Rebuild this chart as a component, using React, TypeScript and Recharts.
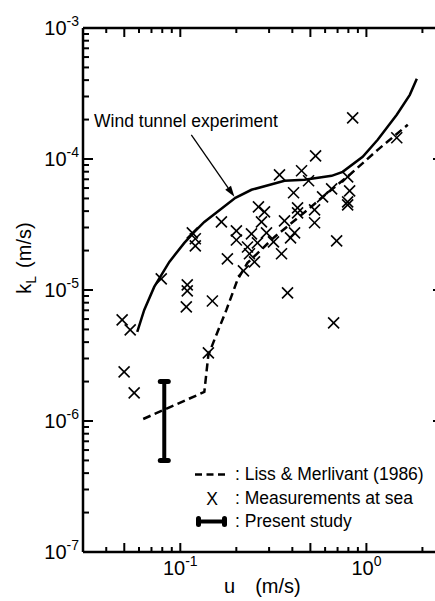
import React from 'react';
import {
  ComposedChart,
  XAxis,
  YAxis,
  Line,
  Scatter,
  ReferenceLine,
  ReferenceDot,
  Legend,
  Label,
} from 'recharts';

const FONT = '"Liberation Sans", Arial, Helvetica, sans-serif';

// Measurements at sea (u in m/s, kL in m/s)
const seaU = [
  0.0487, 0.0538, 0.0499, 0.0565, 0.079, 0.109, 0.109, 0.1077, 0.116, 0.1204,
  0.1204, 0.1487, 0.1415, 0.1663, 0.1791, 0.2002, 0.2002, 0.2184, 0.2296, 0.2353,
  0.2412, 0.2504, 0.2598, 0.263, 0.2834, 0.273, 0.2905, 0.3167, 0.3499, 0.3631,
  0.3769, 0.3912, 0.4111, 0.3412, 0.4061, 0.4266, 0.4266, 0.4483, 0.4889, 0.5266,
  0.5266, 0.5333, 0.5815, 0.6503, 0.6668, 0.692, 0.793, 0.8128, 0.793, 0.793,
  0.8437, 1.456,
];
const seaK = [
  5.91e-6, 4.96e-6, 2.37e-6, 1.64e-6, 1.215e-5, 1.094e-5, 9.84e-6, 7.43e-6, 2.73e-5, 2.46e-5,
  2.17e-5, 8.25e-6, 3.31e-6, 3.31e-5, 1.73e-5, 2.83e-5, 2.41e-5, 1.4e-5, 2.13e-5, 1.89e-5,
  2.68e-5, 1.64e-5, 2.29e-5, 4.31e-5, 3.95e-5, 3.31e-5, 2.73e-5, 2.33e-5, 1.89e-5, 3.37e-5,
  9.5e-6, 2.5e-5, 2.73e-5, 7.57e-5, 5.52e-5, 4.24e-5, 3.88e-5, 8.13e-5, 6.82e-5, 4.09e-5,
  3.26e-5, 1.057e-4, 5.14e-5, 5.92e-5, 5.61e-6, 2.37e-5, 7.31e-5, 5.71e-5, 4.71e-5, 4.47e-5,
  2.06e-4, 1.452e-4,
];

// Wind tunnel experiment (solid)
const windU = [0.0587, 0.064, 0.0724, 0.0873, 0.1051, 0.119, 0.1346, 0.1978, 0.2412, 0.3631, 0.4653, 0.6503, 0.7455, 0.955, 1.15, 1.456, 1.711, 1.866];
const windK = [4.79e-6, 7.05e-6, 1.056e-5, 1.64e-5, 2.29e-5, 2.78e-5, 3.31e-5, 5.05e-5, 5.82e-5, 6.82e-5, 6.94e-5, 7.44e-5, 7.98e-5, 1.039e-4, 1.402e-4, 2.18e-4, 3.09e-4, 4.1e-4];

// Liss & Merlivant (1986) (dashed)
const lissU = [0.0632, 0.1346, 0.1415, 0.1524, 0.1769, 0.2027, 0.2296, 0.3208, 0.483, 0.619, 0.8128, 1.15, 1.669];
const lissK = [1.036e-6, 1.666e-6, 3.19e-6, 4.16e-6, 7.05e-6, 1.194e-5, 1.61e-5, 2.54e-5, 4.09e-5, 5.52e-5, 7.57e-5, 1.175e-4, 1.825e-4];

// Present study (error bar)
const studyU = [0.082, 0.082];
const studyK = [5e-7, 2e-6];

// Annotation
const annotText = 'Wind tunnel experiment';
const annotU = 0.0344;
const annotK = 1.94e-4;
const arrowU = [0.1146, 0.1953];
const arrowK = [1.53e-4, 5.14e-5];

// Axes
const xDomain = [0.03, 2.58];
const yDomain = [1e-7, 1e-3];
const xMajorTicks = [0.1, 1];
const xExponents = ['-1', '0'];
const xMinorTicks = [0.04, 0.05, 0.06, 0.07, 0.08, 0.09, 0.2, 0.3, 0.4, 0.5, 0.6, 0.7, 0.8, 0.9, 2];
const yMajorTicks = [1e-7, 1e-6, 1e-5, 1e-4, 1e-3];
const yExponents = ['-7', '-6', '-5', '-4', '-3'];
const yMantissas = [2, 3, 4, 5, 6, 7, 8, 9];
const yDecades = [1e-7, 1e-6, 1e-5, 1e-4];

const xTicks = [...xMajorTicks, ...xMinorTicks].sort((a, b) => a - b);
const yMinorTicks = yDecades.flatMap((d) => yMantissas.map((m) => m * d));
const yTicks = [...yMajorTicks, ...yMinorTicks].sort((a, b) => a - b);

const seaData = seaU.map((u, i) => ({ u, k: seaK[i] }));
const windData = windU.map((u, i) => ({ u, k: windK[i] }));
const lissData = lissU.map((u, i) => ({ u, k: lissK[i] }));
const studyData = studyU.map((u, i) => ({ u, k: studyK[i] }));

const near = (a: number, b: number) => Math.abs(Math.log10(a) - Math.log10(b)) < 1e-6;
const isHalfDecade = (v: number) => xMajorTicks.some((m) => near(v, m * 0.5));

const AXIS_W = 2.5;

const BottomTick = (props: any) => {
  const { x, y, payload } = props;
  const v = payload.value;
  const idx = xMajorTicks.findIndex((t) => near(t, v));
  const len = idx >= 0 || isHalfDecade(v) ? 9 : 5;
  return (
    <g>
      <line x1={x} x2={x} y1={y} y2={y - len} stroke="#000" strokeWidth={2} />
      {idx >= 0 && (
        <text x={x} y={y + 23} textAnchor="middle" fontFamily={FONT} fontSize={20} fill="#000">
          10<tspan dy={-9} fontSize={14}>{xExponents[idx]}</tspan>
        </text>
      )}
    </g>
  );
};

const TopTick = (props: any) => {
  const { x, y, payload } = props;
  const v = payload.value;
  const idx = xMajorTicks.findIndex((t) => near(t, v));
  const len = idx >= 0 || isHalfDecade(v) ? 9 : 5;
  return <line x1={x} x2={x} y1={y} y2={y + len} stroke="#000" strokeWidth={2} />;
};

const LeftTick = (props: any) => {
  const { x, y, payload } = props;
  const v = payload.value;
  const idx = yMajorTicks.findIndex((t) => near(t, v));
  const len = idx >= 0 ? 10 : 6;
  return (
    <g>
      <line x1={x} x2={x + len} y1={y} y2={y} stroke="#000" strokeWidth={2} />
      {idx >= 0 && (
        <text x={x - 4} y={y + 7} textAnchor="end" fontFamily={FONT} fontSize={20} fill="#000">
          10<tspan dy={-9} fontSize={14}>{yExponents[idx]}</tspan>
        </text>
      )}
    </g>
  );
};

const RightTick = (props: any) => {
  const { x, y, payload } = props;
  const v = payload.value;
  const idx = yMajorTicks.findIndex((t) => near(t, v));
  const len = idx >= 0 ? 10 : 6;
  return <line x1={x} x2={x - len} y1={y} y2={y} stroke="#000" strokeWidth={2} />;
};

const Cross = (props: any) => {
  const { cx, cy } = props;
  const s = 5.5;
  return (
    <g>
      <line x1={cx - s} y1={cy - s} x2={cx + s} y2={cy + s} stroke="#000" strokeWidth={1.6} />
      <line x1={cx - s} y1={cy + s} x2={cx + s} y2={cy - s} stroke="#000" strokeWidth={1.6} />
    </g>
  );
};

const Cap = (props: any) => {
  const { cx, cy, index } = props;
  return <rect key={`cap-${index}`} x={cx - 6.5} y={cy - 2.5} width={13} height={5} rx={2.5} fill="#000" />;
};

const Arrow = (props: any) => {
  const { x1, y1, x2, y2 } = props;
  const ang = Math.atan2(y2 - y1, x2 - x1);
  const L = 11;
  const W = 3.5;
  const bx = x2 - L * Math.cos(ang);
  const by = y2 - L * Math.sin(ang);
  const px = -Math.sin(ang) * W;
  const py = Math.cos(ang) * W;
  return (
    <g>
      <line x1={x1} y1={y1} x2={bx} y2={by} stroke="#000" strokeWidth={1.3} />
      <polygon points={`${x2},${y2} ${bx + px},${by + py} ${bx - px},${by - py}`} fill="#000" />
    </g>
  );
};

const AnnotLabel = (props: any) => {
  const vb = props.viewBox || {};
  return (
    <text x={vb.x} y={vb.y + 6} fontFamily={FONT} fontSize={17.5} fill="#000">
      {annotText}
    </text>
  );
};

const LegendContent = () => {
  const row: React.CSSProperties = { display: 'flex', alignItems: 'center', height: 23.5, whiteSpace: 'nowrap' };
  return (
    <div style={{ fontFamily: FONT, fontSize: 17.5, color: '#000', lineHeight: '23.5px' }}>
      <div style={row}>
        <svg width={45} height={23} style={{ display: 'block' }}>
          <line x1={5} x2={37} y1={11.5} y2={11.5} stroke="#000" strokeWidth={2.5} strokeDasharray="7 4.5" />
        </svg>
        <span>: Liss &amp; Merlivant (1986)</span>
      </div>
      <div style={row}>
        <svg width={45} height={23} style={{ display: 'block' }}>
          <text x={22} y={18} textAnchor="middle" fontFamily={FONT} fontSize={17.5} fill="#000">X</text>
        </svg>
        <span>: Measurements at sea</span>
      </div>
      <div style={row}>
        <svg width={45} height={23} style={{ display: 'block' }}>
          <line x1={8} x2={34} y1={11.5} y2={11.5} stroke="#000" strokeWidth={4} />
          <rect x={6} y={6} width={5} height={11} rx={2.5} fill="#000" />
          <rect x={32} y={6} width={5} height={11} rx={2.5} fill="#000" />
        </svg>
        <span>: Present study</span>
      </div>
    </div>
  );
};

export default function App() {
  return (
    <div style={{ position: 'absolute', left: 0, top: 0, width: 435, height: 601, overflow: 'hidden', background: '#fff' }}>
      <ComposedChart width={450} height={601} margin={{ top: 27, right: 6, bottom: 48, left: 82 }}>
        <XAxis
          xAxisId={0}
          type="number"
          dataKey="u"
          scale="log"
          domain={xDomain}
          allowDataOverflow
          ticks={xTicks}
          interval={0}
          tick={<BottomTick />}
          tickSize={0}
          tickMargin={0}
          tickLine={false}
          axisLine={{ stroke: '#000', strokeWidth: AXIS_W }}
          height={1}
        >
          <Label
            content={() => (
              <text x={224} y={593} fontFamily={FONT} fontSize={20} fill="#000">
                u<tspan dx={20}>(m/s)</tspan>
              </text>
            )}
          />
        </XAxis>
        <XAxis
          xAxisId="top"
          orientation="top"
          type="number"
          dataKey="u"
          scale="log"
          domain={xDomain}
          allowDataOverflow
          ticks={xTicks}
          interval={0}
          tick={<TopTick />}
          tickSize={0}
          tickMargin={0}
          tickLine={false}
          axisLine={{ stroke: '#000', strokeWidth: AXIS_W }}
          height={1}
        />
        <YAxis
          yAxisId={0}
          type="number"
          dataKey="k"
          scale="log"
          domain={yDomain}
          allowDataOverflow
          ticks={yTicks}
          interval={0}
          tick={<LeftTick />}
          tickSize={0}
          tickMargin={0}
          tickLine={false}
          axisLine={{ stroke: '#000', strokeWidth: AXIS_W }}
          width={1}
        >
          <Label
            content={() => (
              <text x={31} y={258} transform="rotate(-90 31 258)" textAnchor="middle" fontFamily={FONT} fontSize={20} fill="#000">
                k<tspan dy={5} fontSize={14}>L</tspan>
                <tspan dy={-5} dx={8}>(m/s)</tspan>
              </text>
            )}
          />
        </YAxis>
        <YAxis
          yAxisId="right"
          orientation="right"
          type="number"
          dataKey="k"
          scale="log"
          domain={yDomain}
          allowDataOverflow
          ticks={yTicks}
          interval={0}
          tick={<RightTick />}
          tickSize={0}
          tickMargin={0}
          tickLine={false}
          axisLine={{ stroke: '#000', strokeWidth: AXIS_W }}
          width={1}
        />
        <Line
          data={windData}
          dataKey="k"
          type="linear"
          stroke="#000"
          strokeWidth={2.5}
          dot={false}
          activeDot={false}
          isAnimationActive={false}
          name="Wind tunnel experiment"
        />
        <Line
          data={lissData}
          dataKey="k"
          type="linear"
          stroke="#000"
          strokeWidth={2.5}
          strokeDasharray="8 4.5"
          dot={false}
          activeDot={false}
          isAnimationActive={false}
          name="Liss & Merlivant (1986)"
        />
        <Scatter
          data={seaData}
          dataKey="k"
          shape={<Cross />}
          isAnimationActive={false}
          name="Measurements at sea"
        />
        <Line
          data={studyData}
          dataKey="k"
          type="linear"
          stroke="#000"
          strokeWidth={4}
          dot={(p: any) => <Cap key={`cap-${p.index}`} {...p} />}
          activeDot={false}
          isAnimationActive={false}
          name="Present study"
        />
        <ReferenceLine
          segment={[
            { x: arrowU[0], y: arrowK[0] },
            { x: arrowU[1], y: arrowK[1] },
          ]}
          shape={(p: any) => <Arrow {...p} />}
        />
        <ReferenceDot x={annotU} y={annotK} r={0} fill="none" stroke="none" label={(p: any) => <AnnotLabel {...p} />} />
        <Legend
          layout="vertical"
          align="center"
          verticalAlign="middle"
          content={() => <LegendContent />}
          wrapperStyle={{ position: 'absolute', left: 190, top: 463, width: 245 }}
        />
      </ComposedChart>
    </div>
  );
}
